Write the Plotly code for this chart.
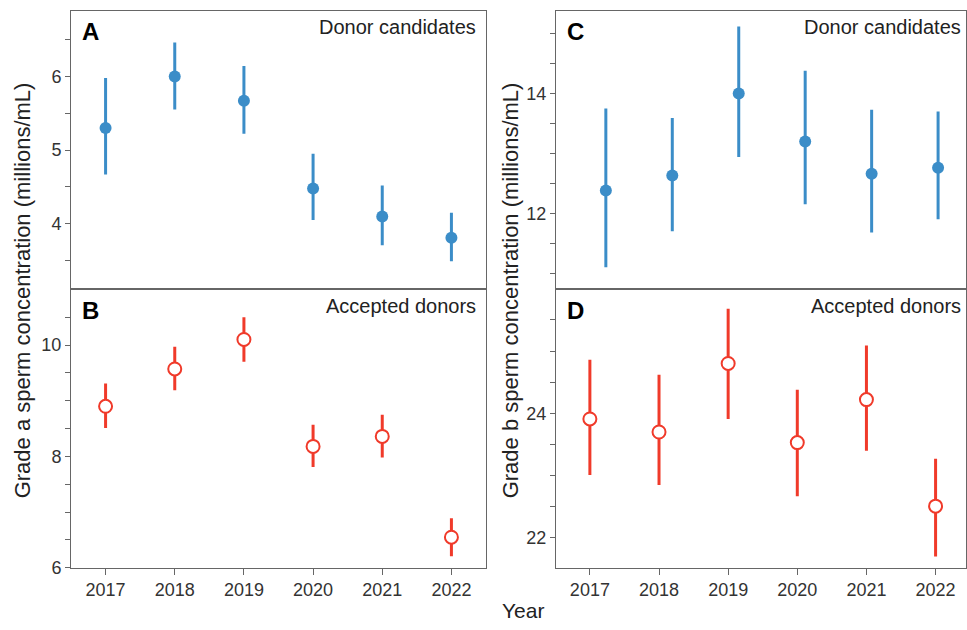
import plotly.graph_objects as go

W, H = 967, 630

years = [2017, 2018, 2019, 2020, 2021, 2022]

# Panel A: grade a, donor candidates
a_mean = [5.30, 6.00, 5.67, 4.48, 4.10, 3.81]
a_low = [4.67, 5.55, 5.22, 4.05, 3.71, 3.49]
a_high = [5.98, 6.46, 6.14, 4.95, 4.52, 4.15]

# Panel B: grade a, accepted donors
b_mean = [8.90, 9.57, 10.10, 8.18, 8.36, 6.55]
b_low = [8.51, 9.19, 9.70, 7.81, 7.98, 6.21]
b_high = [9.31, 9.97, 10.50, 8.57, 8.75, 6.89]

# Panel C: grade b, donor candidates
c_mean = [12.38, 12.63, 14.00, 13.20, 12.66, 12.76]
c_low = [11.10, 11.70, 12.94, 12.15, 11.68, 11.90]
c_high = [13.75, 13.59, 15.12, 14.38, 13.73, 13.70]

# Panel D: grade b, accepted donors
d_mean = [23.91, 23.70, 24.80, 23.53, 24.22, 22.51]
d_low = [23.01, 22.85, 23.91, 22.67, 23.40, 21.70]
d_high = [24.86, 24.62, 25.68, 24.38, 25.09, 23.27]

BLUE = "#3b8dc8"
RED = "#f03a2a"
AXC = "#666666"
TXT = "#222222"
FONT = "Liberation Sans"

fig = go.Figure()


def py(y):
    return 1 - y / H


def add_panel(mean, low, high, xa, ya, filled):
    up = [h - m for h, m in zip(high, mean)]
    dn = [m - l for m, l in zip(mean, low)]
    color = BLUE if filled else RED
    marker = (dict(symbol="circle", size=12, color=color, line=dict(width=0))
              if filled else
              dict(symbol="circle", size=13, color="white", line=dict(width=2, color=color)))
    fig.add_trace(go.Scatter(
        x=years, y=mean, mode="markers", xaxis=xa, yaxis=ya,
        marker=marker,
        error_y=dict(type="data", symmetric=False, array=up, arrayminus=dn,
                     color=color, thickness=3, width=0),
        showlegend=False, hoverinfo="x+y"))


add_panel(a_mean, a_low, a_high, "x", "y", True)
add_panel(b_mean, b_low, b_high, "x2", "y2", False)
add_panel(c_mean, c_low, c_high, "x3", "y3", True)
add_panel(d_mean, d_low, d_high, "x4", "y4", False)

xL = [71 / W, 486 / W]
xR = [556 / W, 966 / W]
yT = [py(294), py(11)]
yB = [py(577), py(294)]


def yaxis(domain, anchor, rng, tickvals, labeled):
    return dict(domain=domain, anchor=anchor, range=rng, tickmode="array",
                tickvals=tickvals,
                ticktext=[(f"{v:g}" if v in labeled else "") for v in tickvals],
                ticks="outside", ticklen=5, tickwidth=1, tickcolor=AXC,
                showline=True, linecolor=AXC, linewidth=1, mirror=True,
                showgrid=False, zeroline=False,
                tickfont=dict(family=FONT, size=18, color="#333333"))


def xaxis(domain, anchor, rng, show):
    d = dict(domain=domain, anchor=anchor, range=rng,
             showline=True, linecolor=AXC, linewidth=1, mirror=True,
             showgrid=False, zeroline=False)
    if show:
        d.update(tickmode="array", tickvals=years, ticktext=[str(y) for y in years],
                 ticks="outside", ticklen=6, tickwidth=1, tickcolor=AXC,
                 tickfont=dict(family=FONT, size=18, color="#333333"))
    else:
        d.update(showticklabels=False, ticks="")
    return d


fig.update_layout(
    width=W, height=H, margin=dict(l=0, r=0, t=0, b=0),
    paper_bgcolor="white", plot_bgcolor="white",
    xaxis=xaxis(xL, "y", [2016.5, 2022.5], False),
    yaxis=yaxis(yT, "x", [3.11, 6.89], [3.5, 4, 4.5, 5, 5.5, 6, 6.5], [4, 5, 6]),
    xaxis2=xaxis(xL, "y2", [2016.5, 2022.5], True),
    yaxis2=yaxis(yB, "x2", [6, 11], [6, 6.5, 7, 7.5, 8, 8.5, 9, 9.5, 10, 10.5], [6, 8, 10]),
    xaxis3=xaxis(xR, "y3", [2016.25, 2022.42], False),
    yaxis3=yaxis(yT, "x3", [10.73, 15.38], [11, 11.5, 12, 12.5, 13, 13.5, 14, 14.5, 15], [12, 14]),
    xaxis4=xaxis(xR, "y4", [2016.51, 2022.44], True),
    yaxis4=yaxis(yB, "x4", [21.52, 25.99], [22, 22.5, 23, 23.5, 24, 24.5, 25, 25.5], [22, 24]),
)

ann = []
for letter, x, y in [("A", 80, 16), ("B", 80, 300), ("C", 565, 16), ("D", 565, 300)]:
    ann.append(dict(text=f"<b>{letter}</b>", x=x / W, y=py(y), xref="paper", yref="paper",
                    xanchor="left", yanchor="top", showarrow=False,
                    font=dict(family=FONT, size=24, color="black")))
for txt, x, y in [("Donor candidates", 478, 14), ("Accepted donors", 478, 298),
                  ("Donor candidates", 963, 14), ("Accepted donors", 963, 298)]:
    ann.append(dict(text=txt, x=x / W, y=py(y), xref="paper", yref="paper",
                    xanchor="right", yanchor="top", showarrow=False,
                    font=dict(family=FONT, size=20, color=TXT)))
ann.append(dict(text="Grade a sperm concentration (millions/mL)", x=22 / W, y=py(295),
                xref="paper", yref="paper", textangle=-90, showarrow=False,
                xanchor="center", yanchor="middle",
                font=dict(family=FONT, size=22, color=TXT)))
ann.append(dict(text="Grade b sperm concentration (millions/mL)", x=510 / W, y=py(295),
                xref="paper", yref="paper", textangle=-90, showarrow=False,
                xanchor="center", yanchor="middle",
                font=dict(family=FONT, size=22, color=TXT)))
ann.append(dict(text="Year", x=523 / W, y=py(620), xref="paper", yref="paper",
                showarrow=False, xanchor="center", yanchor="middle",
                font=dict(family=FONT, size=21, color=TXT)))
fig.update_layout(annotations=ann)

fig.write_html("out.html")
